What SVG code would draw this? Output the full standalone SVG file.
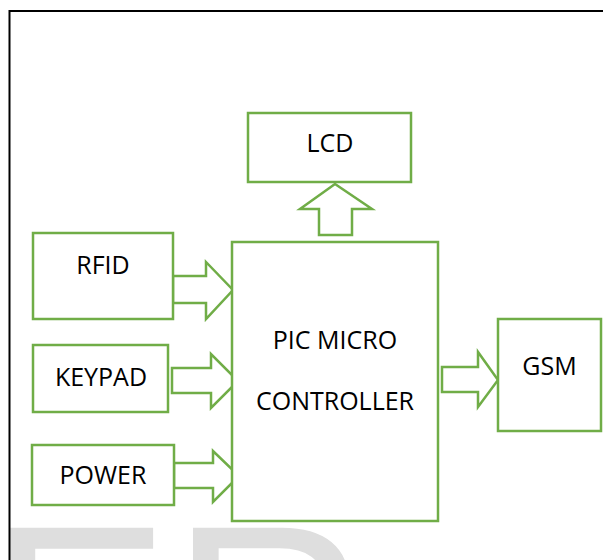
<svg xmlns="http://www.w3.org/2000/svg" width="603" height="560" viewBox="0 0 603 560">
<style>
.box{fill:#fff;stroke:#70AD47;stroke-width:2.5}
.arr{fill:#fff;stroke:#70AD47;stroke-width:2.5;stroke-linejoin:miter}
.lbl{font-family:"Open Sans","Liberation Sans",sans-serif;font-size:25px;fill:#000;text-anchor:middle}
.wm{font-family:"Liberation Sans",Arial,sans-serif;font-size:275px;fill:#dedede}
</style>
<rect width="603" height="560" fill="#fff"/>
<text class="wm" x="-13" y="717">ER</text>
<path d="M9.5 560 V11 H603" fill="none" stroke="#000" stroke-width="2"/>
<g id="connectors">
<polygon class="arr" points="173,276 206,276 206,262 233,290 206,319 206,303 173,303"/>
<polygon class="arr" points="172,368 211,368 211,354 238,381 211,408 211,393 172,393"/>
<polygon class="arr" points="174,463 213,463 213,451 239,476 213,502 213,488 174,488"/>
<polygon class="arr" points="442,367 478,367 478,352 498,380 478,407 478,392 442,392"/>
<polygon class="arr" points="319,235 319,209 300,209 335,184 372,209 352,209 352,235"/>
</g>
<g id="lcd"><rect class="box" x="248" y="113" width="163" height="69"/><text class="lbl" x="330" y="152">LCD</text></g>
<g id="rfid"><rect class="box" x="33" y="233" width="140" height="86"/><text class="lbl" x="103" y="274">RFID</text></g>
<g id="keypad"><rect class="box" x="33" y="345" width="135" height="67"/><text class="lbl" x="101" y="386">KEYPAD</text></g>
<g id="power"><rect class="box" x="32" y="445" width="142" height="60"/><text class="lbl" x="103" y="484">POWER</text></g>
<g id="pic"><rect class="box" x="232" y="242" width="206" height="279"/><text class="lbl" x="335" y="349">PIC MICRO</text><text class="lbl" x="335" y="410">CONTROLLER</text></g>
<g id="gsm"><rect class="box" x="498" y="319" width="103" height="112"/><text class="lbl" x="549.5" y="375">GSM</text></g>
</svg>
